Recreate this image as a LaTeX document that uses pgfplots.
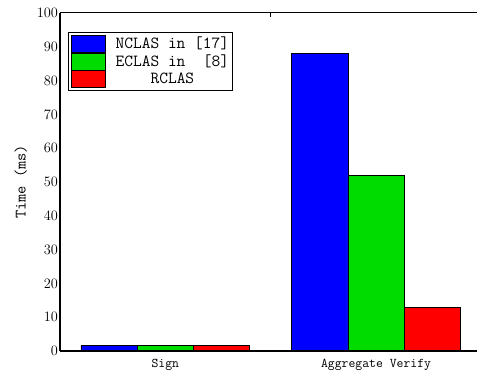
\documentclass[border=0pt]{standalone}
\usepackage{pgfplots}
\pgfplotsset{compat=1.18}
\definecolor{bblue}{RGB}{0,0,255}
\definecolor{bgreen}{RGB}{0,220,0}
\definecolor{bred}{RGB}{255,0,0}
\begin{document}
\begin{tikzpicture}
\begin{axis}[
  name=ax,
  scale only axis,
  width=417bp, height=338bp,
  xmin=0.5, xmax=2.479,
  ymin=0, ymax=100,
  ytick={0,10,...,100},
  xtick={1,2},
  xticklabels={Sign,Aggregate Verify},
  axis line style={draw=none},
  major tick style={draw=none},
  ticklabel style={font=\fontsize{13.4}{16}\selectfont},
  yticklabel style={xshift=1.5bp},
  xticklabel style={font=\fontsize{13.4}{16}\selectfont\ttfamily},
  ylabel={Time (ms)},
  ylabel style={font=\fontsize{16}{19}\selectfont\ttfamily, yshift=3bp},
  ybar,
  bar width=0.267,
  clip=false,
  legend cell align=center,
  legend image code/.code={\draw[#1,draw=black,line width=0.8bp] (0bp,-8.5bp) rectangle (34bp,8.5bp);},
  legend style={at={(0.0192,0.944)}, anchor=north west, draw=black, line width=0.8bp, inner sep=2.5bp,
    font=\fontsize{17}{19}\selectfont\ttfamily, row sep=0pt, column sep=9bp,
    nodes={inner sep=1bp}},
  extra description/.code={
    \draw[line width=1.3bp] (rel axis cs:0,0) -- (rel axis cs:0,1);
    \draw[line width=1bp] (rel axis cs:0,1) -- (rel axis cs:1,1);
    \draw[line width=2bp] (rel axis cs:0,0) -- (rel axis cs:1,0);
    \draw[line width=1bp] (axis cs:1.5,100) -- ++(0,-4bp);
  },
]
\addplot[fill=bblue, draw=black, line width=0.8bp, bar shift=-0.267] coordinates {(1,1.6) (2,88)};
\addplot[fill=bgreen, draw=black, line width=0.8bp, bar shift=0] coordinates {(1,1.6) (2,52)};
\addplot[fill=bred, draw=black, line width=0.8bp, bar shift=0.267] coordinates {(1,1.6) (2,13)};
\legend{NCLAS in [17], ECLAS in\ \ [8], RCLAS}
\end{axis}
\pgfresetboundingbox
\path (ax.south west) ++(-60bp,-25bp) rectangle ++(477bp,376bp);
\end{tikzpicture}
\end{document}
